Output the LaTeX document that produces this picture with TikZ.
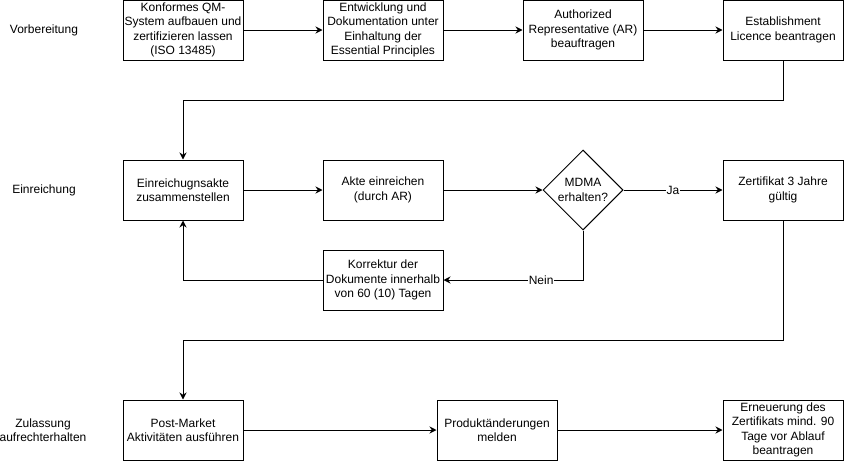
\documentclass[tikz,border=0pt]{standalone}
\usepackage{fontspec}
\setmainfont{Liberation Sans}
\usetikzlibrary{shapes.geometric,arrows.meta}

\begin{document}
\begin{tikzpicture}[x=1pt,y=-1pt,
    font=\fontsize{12}{14.4}\selectfont,
    box/.style={draw,line width=1pt,minimum width=120pt,minimum height=60pt,inner sep=0pt,align=center},
    decision/.style={draw,diamond,line width=1pt,minimum width=80pt,minimum height=80pt,inner sep=0pt,align=center},
    arr/.style={line width=1pt,-{Stealth[length=7pt,width=7pt]}},
    lbl/.style={fill=white,inner sep=1pt}]
    \useasboundingbox (0,0) rectangle (844,461);
    % Phasen
    \node (vorb) at (44,30) {Vorbereitung};
    \node (einr) at (44,190) {Einreichung};
    \node[align=center] (zul) at (43,430) {Zulassung\\aufrechterhalten};
    % Vorbereitung
    \node[box] (qm) at (183,30) {Konformes QM-\\System aufbauen und\\zertifizieren lassen\\(ISO 13485)};
    \node[box] (doku) at (383,30) {Entwicklung und\\Dokumentation unter\\Einhaltung der\\Essential Principles};
    \node[box] (ar) at (583,30) {Authorized\\Representative (AR)\\beauftragen};
    \node[box] (licence) at (783,30) {Establishment\\Licence beantragen};
    % Einreichung
    \node[box] (akte) at (183,190) {Einreichugnsakte\\zusammenstellen};
    \node[box] (einreichen) at (383,190) {Akte einreichen\\(durch AR)};
    \node[decision] (mdma) at (583,190) {MDMA\\erhalten?};
    \node[box] (zert) at (783,190) {Zertifikat 3 Jahre\\gültig};
    \node[box] (korr) at (383,280) {Korrektur der\\Dokumente innerhalb\\von 60 (10) Tagen};
    % Zulassung aufrechterhalten
    \node[box] (postm) at (183,430) {Post-Market\\Aktivitäten ausführen};
    \node[box] (aend) at (497,430) {Produktänderungen\\melden};
    \node[box] (erneu) at (783,430) {Erneuerung des\\Zertifikats mind. 90\\Tage vor Ablauf\\beantragen};

    \draw[arr] (qm) -- (doku);
    \draw[arr] (doku) -- (ar);
    \draw[arr] (ar) -- (licence);
    \draw[arr] (licence.south) -- ++(0,40) -| (akte.north);
    \draw[arr] (akte) -- (einreichen);
    \draw[arr] (einreichen) -- (mdma);
    \draw[arr] (mdma) -- node[lbl] {Ja} (zert);
    \draw[arr] (mdma.south) |- node[lbl,pos=0.65] {Nein} (korr.east);
    \draw[arr] (korr.west) -| (akte.south);
    \draw[arr] (zert.south) -- ++(0,120) -| (postm.north);
    \draw[arr] (postm) -- (aend);
    \draw[arr] (aend) -- (erneu);
\end{tikzpicture}
\end{document}
